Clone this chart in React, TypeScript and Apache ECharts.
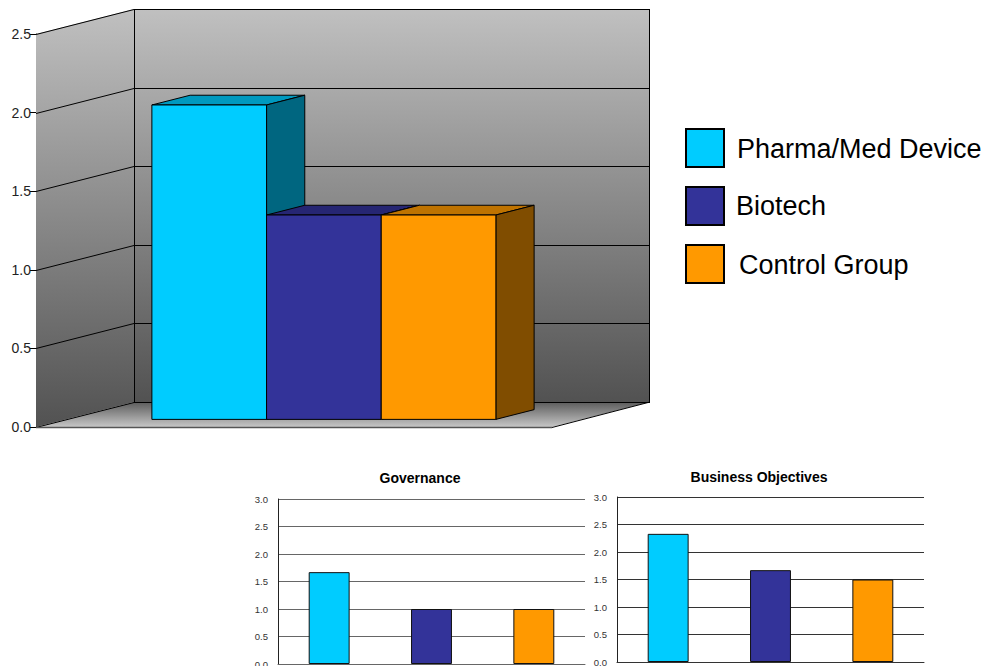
import React, { useEffect, useRef } from "react";
import * as echarts from "echarts";

const seriesNames = ["Pharma/Med Device", "Biotech", "Control Group"];
const seriesColors = ["#00CCFF", "#333399", "#FF9900"];
const topColors = ["#0099BF", "#262673", "#BF7300"];
const sideColors = ["#006680", "#1A1A4D", "#804D00"];

const overviewValues = [2.0, 1.3, 1.3];
const overviewTicks = [0, 0.5, 1.0, 1.5, 2.0, 2.5];
const governanceValues = [1.67, 1.0, 1.0];
const objectivesValues = [2.33, 1.67, 1.5];

const FONT = "'Liberation Sans', Arial, sans-serif";

// Projection of the depth axis in the 3D column chart.
const DEPTH_X = 98;
const DEPTH_Y = 25;
const BAR_FRONT = 0.305;
const BAR_BACK = 0.695;

function renderWalls(_params: any, api: any) {
  const base = api.coord([0, 0]);
  const band = api.size([1, 0])[0];
  const left = base[0] - band / 2;
  const right = base[0] + band / 2;
  const bottom = base[1];
  const top = api.coord([0, overviewTicks[overviewTicks.length - 1]])[1];
  const wallFill = new echarts.graphic.LinearGradient(0, 0, 0, 1, [
    { offset: 0, color: "#C0C0C0" },
    { offset: 1, color: "#525252" },
  ]);
  const floorFill = new echarts.graphic.LinearGradient(0, 0, 0, 1, [
    { offset: 0, color: "#5C5C5C" },
    { offset: 1, color: "#C6C6C6" },
  ]);
  const edge = { stroke: "#000", lineWidth: 1 };
  const children: any[] = [
    {
      type: "polygon",
      shape: { points: [[left, bottom], [left + DEPTH_X, bottom - DEPTH_Y], [right + DEPTH_X, bottom - DEPTH_Y], [right, bottom]] },
      style: { fill: floorFill, stroke: "none" },
    },
    {
      type: "polygon",
      shape: { points: [[left, top], [left + DEPTH_X, top - DEPTH_Y], [left + DEPTH_X, bottom - DEPTH_Y], [left, bottom]] },
      style: { fill: wallFill, stroke: "none" },
    },
    {
      type: "rect",
      shape: { x: left + DEPTH_X, y: top - DEPTH_Y, width: band, height: bottom - top },
      style: { fill: wallFill, stroke: "none" },
    },
  ];
  overviewTicks.forEach((tick) => {
    const y = Math.round(api.coord([0, tick])[1]) + 0.5;
    children.push({
      type: "polyline",
      shape: { points: [[left, y], [left + DEPTH_X, y - DEPTH_Y], [right + DEPTH_X, y - DEPTH_Y]] },
      style: { fill: "none", ...edge },
    });
  });
  children.push(
    {
      type: "line",
      shape: { x1: left + DEPTH_X + 0.5, y1: top - DEPTH_Y, x2: left + DEPTH_X + 0.5, y2: bottom - DEPTH_Y },
      style: edge,
    },
    {
      type: "line",
      shape: { x1: right + DEPTH_X - 0.5, y1: top - DEPTH_Y, x2: right + DEPTH_X - 0.5, y2: bottom - DEPTH_Y },
      style: edge,
    },
    {
      type: "line",
      shape: { x1: right + DEPTH_X, y1: bottom - DEPTH_Y, x2: right, y2: bottom + 0.5 },
      style: edge,
    },
    {
      type: "line",
      shape: { x1: left, y1: bottom + 0.5, x2: right, y2: bottom + 0.5 },
      style: { stroke: "#555", lineWidth: 1.5 },
    },
  );
  return { type: "group", children };
}

function renderColumn(index: number) {
  return (_params: any, api: any) => {
    const base = api.coord([0, 0]);
    const band = api.size([1, 0])[0];
    const width = (band * 2) / 9;
    const height = base[1] - api.coord([0, api.value(1)])[1];
    const x0 = base[0] - 1.5 * width + index * width + DEPTH_X * BAR_FRONT;
    const y0 = base[1] - DEPTH_Y * BAR_FRONT;
    const dx = DEPTH_X * (BAR_BACK - BAR_FRONT);
    const dy = DEPTH_Y * (BAR_BACK - BAR_FRONT);
    const yTop = y0 - height;
    const edge = { stroke: "#000", lineWidth: 1 };
    return {
      type: "group",
      children: [
        {
          type: "polygon",
          shape: { points: [[x0, yTop], [x0 + dx, yTop - dy], [x0 + width + dx, yTop - dy], [x0 + width, yTop]] },
          style: { fill: topColors[index], ...edge },
        },
        {
          type: "polygon",
          shape: { points: [[x0 + width, yTop], [x0 + width + dx, yTop - dy], [x0 + width + dx, y0 - dy], [x0 + width, y0]] },
          style: { fill: sideColors[index], ...edge },
        },
        {
          type: "rect",
          shape: { x: x0, y: yTop, width, height },
          style: { fill: seriesColors[index], ...edge },
        },
      ],
    };
  };
}

function smallBars(values: number[], axisIndex: number) {
  return {
    type: "bar",
    xAxisIndex: axisIndex,
    yAxisIndex: axisIndex,
    barWidth: "40%",
    z: 3,
    data: values.map((value, i) => ({
      value,
      itemStyle: { color: seriesColors[i], borderColor: "#111", borderWidth: 1 },
    })),
  };
}

function smallValueAxis(gridIndex: number, lineColor: string) {
  return {
    type: "value",
    gridIndex,
    min: 0,
    max: 3,
    interval: 0.5,
    axisLine: { show: true, lineStyle: { color: "#222", width: 1 } },
    axisTick: { show: false },
    axisLabel: { fontFamily: FONT, fontSize: 9.5, color: "#333", margin: 10, formatter: (v: number) => v.toFixed(1) },
    splitLine: { show: true, lineStyle: { color: lineColor, width: 1 } },
  };
}

function smallCategoryAxis(gridIndex: number, lineColor: string) {
  return {
    type: "category",
    gridIndex,
    data: seriesNames,
    axisLine: { show: true, lineStyle: { color: lineColor, width: 1 } },
    axisTick: { show: false },
    axisLabel: { show: false },
  };
}

const legendRows = [
  { y: 129, textX: 737, textY: 149 },
  { y: 187, textX: 736, textY: 206 },
  { y: 245, textX: 739, textY: 265 },
];

function smallTitle(text: string, left: number, top: number) {
  return {
    text,
    left,
    top,
    textAlign: "center",
    textStyle: { fontFamily: FONT, fontSize: 14, fontWeight: "bold", color: "#000" },
  };
}

function buildOption() {
  return {
    animation: false,
    backgroundColor: "#fff",
    title: [smallTitle("Governance", 415, 466), smallTitle("Business Objectives", 754, 465)],
    grid: [
      { left: 36, top: 34, width: 516, height: 393, outerBoundsMode: "none" },
      { left: 278, top: 499, width: 307, height: 165, outerBoundsMode: "none" },
      { left: 617, top: 497, width: 307, height: 165, outerBoundsMode: "none" },
    ],
    xAxis: [
      { type: "category", gridIndex: 0, data: [""], show: false },
      smallCategoryAxis(1, "#666"),
      smallCategoryAxis(2, "#333"),
    ],
    yAxis: [
      {
        type: "value",
        gridIndex: 0,
        min: 0,
        max: 2.5,
        interval: 0.5,
        axisLine: { show: true, lineStyle: { color: "#000", width: 1 } },
        axisTick: { show: true, length: 6, lineStyle: { color: "#000", width: 1 } },
        axisLabel: { fontFamily: FONT, fontSize: 14, color: "#222", margin: 5, formatter: (v: number) => v.toFixed(1) },
        splitLine: { show: false },
      },
      smallValueAxis(1, "#666"),
      smallValueAxis(2, "#333"),
    ],
    graphic: legendRows.flatMap((row, i) => [
      {
        type: "rect",
        shape: { x: 686, y: row.y, width: 38, height: 38 },
        style: { fill: seriesColors[i], stroke: "#000", lineWidth: 2 },
      },
      {
        type: "text",
        x: row.textX,
        y: row.textY,
        style: { text: seriesNames[i], fontFamily: FONT, fontSize: 27, fill: "#000", textVerticalAlign: "middle" },
      },
    ]),
    series: [
      {
        type: "custom",
        xAxisIndex: 0,
        yAxisIndex: 0,
        renderItem: renderWalls,
        data: [[0, 0]],
        encode: { x: 0, y: 1 },
        silent: true,
      },
      ...seriesNames.map((name, i) => ({
        type: "custom",
        name,
        xAxisIndex: 0,
        yAxisIndex: 0,
        renderItem: renderColumn(i),
        data: [[0, overviewValues[i]]],
        encode: { x: 0, y: 1 },
      })),
      smallBars(governanceValues, 1),
      smallBars(objectivesValues, 2),
    ],
  };
}

export default function App() {
  const ref = useRef<HTMLDivElement>(null);
  useEffect(() => {
    document.body.style.margin = "0";
    const chart = echarts.init(ref.current!, undefined, { renderer: "svg" });
    chart.setOption(buildOption() as any);
    return () => chart.dispose();
  }, []);
  return <div ref={ref} style={{ width: 985, height: 666 }} />;
}
